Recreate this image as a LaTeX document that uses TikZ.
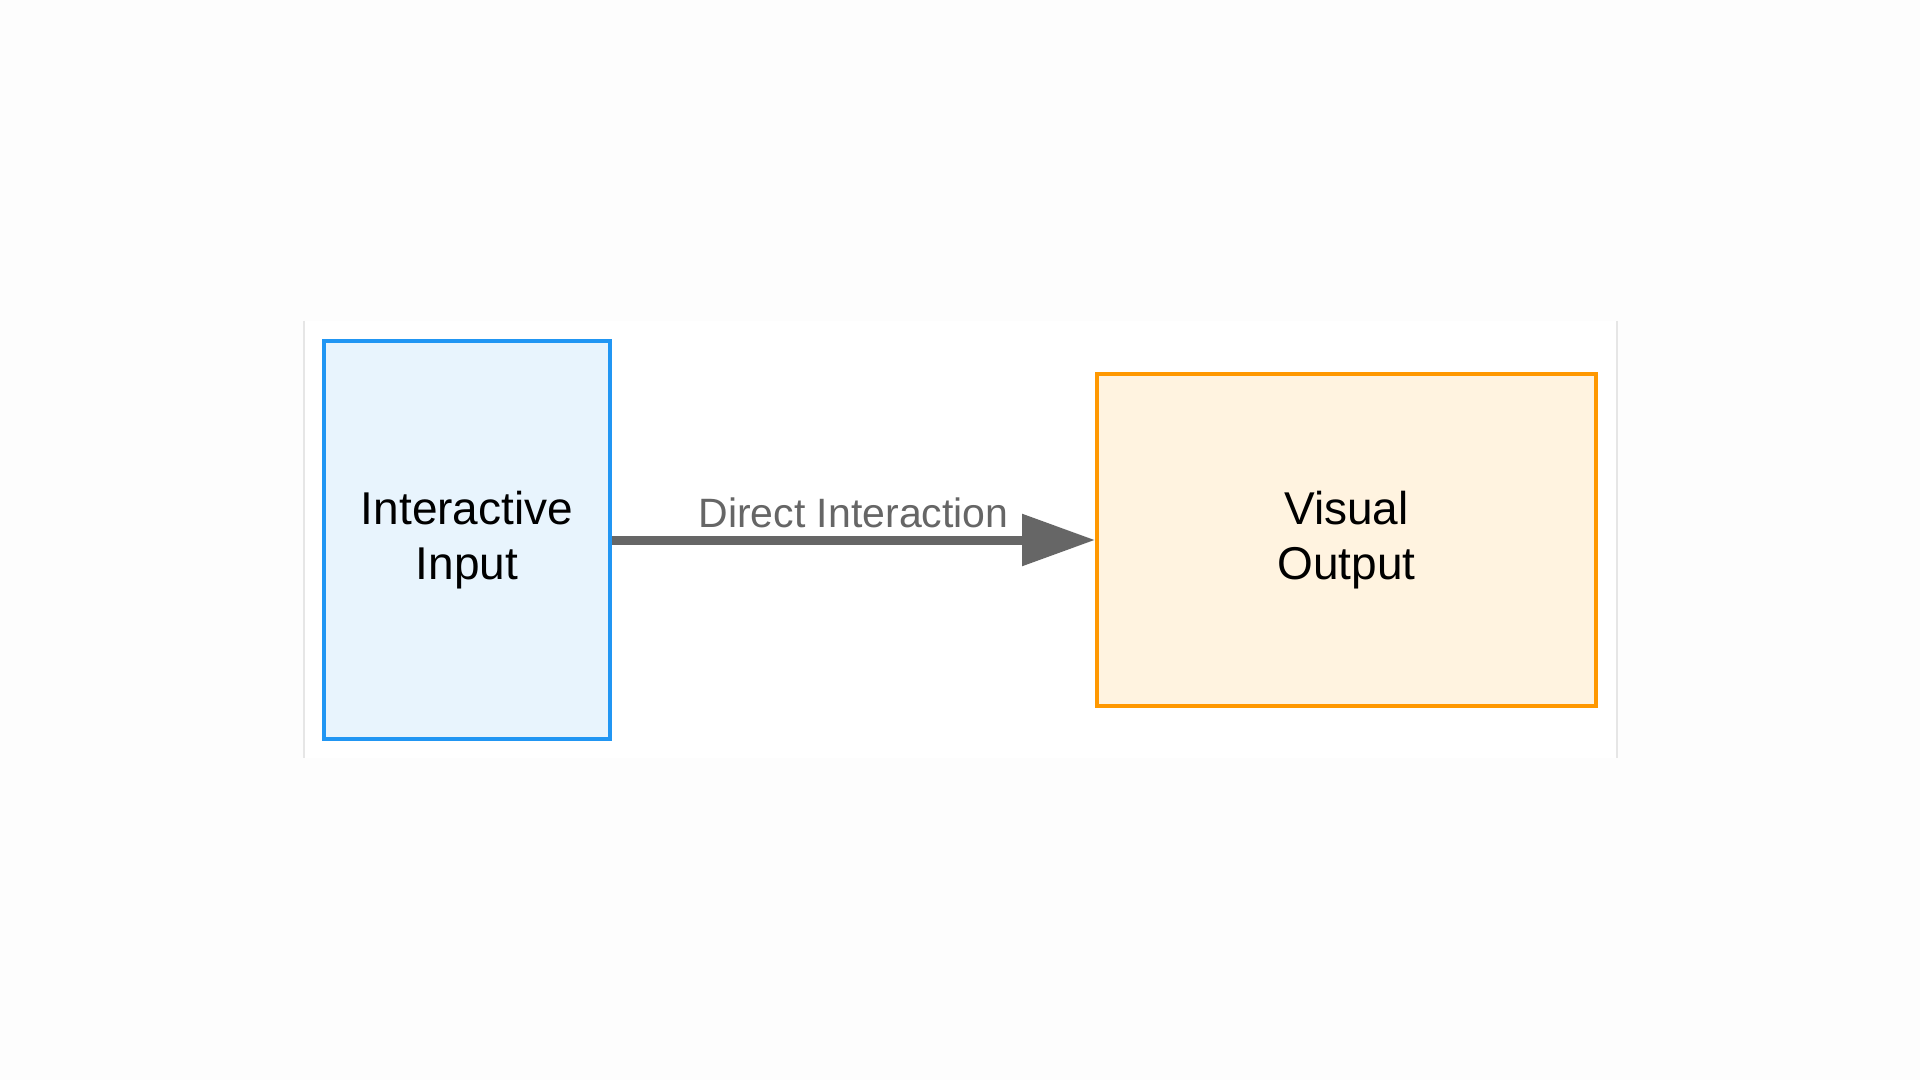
\documentclass[tikz,border=0pt]{standalone}
\usepackage{fontspec}
\setmainfont{Liberation Sans}
\usetikzlibrary{arrows.meta}
\definecolor{pagebg}{HTML}{FDFDFD}
\definecolor{panelline}{HTML}{E6E6E6}
\definecolor{blueline}{HTML}{2196F3}
\definecolor{bluefill}{HTML}{E8F4FD}
\definecolor{orangeline}{HTML}{FF9800}
\definecolor{orangefill}{HTML}{FFF3E0}
\definecolor{arrowgray}{HTML}{666666}
\tikzset{
  boxbase/.style={draw, line width=2pt, inner sep=0pt, align=center,
    font=\fontsize{23}{27.5}\selectfont, text=black},
  inbox/.style={boxbase, draw=blueline, fill=bluefill,
    minimum width=143pt, minimum height=199pt},
  outbox/.style={boxbase, draw=orangeline, fill=orangefill,
    minimum width=249.5pt, minimum height=166pt},
  flowarrow/.style={draw=arrowgray, line width=4.5pt,
    -{Triangle[length=36.5pt,width=25pt]}},
  flowlabel/.style={text=arrowgray, font=\fontsize{20.5}{24}\selectfont,
    inner sep=0pt, anchor=base, yshift=6.25pt}
}
\begin{document}
\begin{tikzpicture}[x=0.5pt,y=-0.5pt]
  \path[fill=pagebg] (0,0) rectangle (1920,1080);
  \useasboundingbox (0,0) rectangle (1920,1080);
  % white panel
  \path[fill=white] (304,321) rectangle (1617,758);
  \draw[panelline, line width=0.6pt] (304,321) -- (304,758);
  \draw[panelline, line width=0.6pt] (1617,321) -- (1617,758);
  % boxes
  \node[inbox] (in) at (467,540) {Interactive\\Input};
  \node[outbox] (out) at (1346.5,540) {Visual\\Output};
  % connector
  \draw[flowarrow] (in.east) -- (out.west)
    node[flowlabel, midway] (lbl) {Direct Interaction};
\end{tikzpicture}
\end{document}
